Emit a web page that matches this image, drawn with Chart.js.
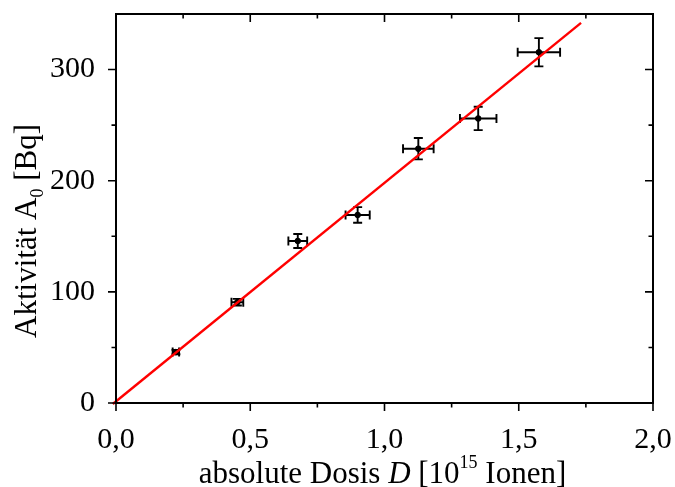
<!DOCTYPE html>
<html>
<head>
<meta charset="utf-8">
<script src="https://cdn.jsdelivr.net/npm/chart.js@4/dist/chart.umd.min.js"></script>
<style>
  html, body { margin: 0; padding: 0; background: #ffffff; }
  #wrap { width: 675px; height: 487px; }
</style>
</head>
<body>
<div id="wrap"><canvas id="chart"></canvas></div>
<script>
/* Aktivität gegen absolute Dosis, mit linearer Anpassung */

// Messpunkte
var dose        = [0.223, 0.452, 0.677, 0.900, 1.126, 1.349, 1.575];
var doseErr     = [0.012, 0.022, 0.035, 0.045, 0.057, 0.068, 0.079];
var activity    = [45.8, 90.7, 145.8, 169.2, 228.8, 256.0, 315.6];
var activityErr = [2.0, 3.0, 6.3, 7.0, 9.6, 10.5, 12.7];

// Ausgleichsgerade (Endpunkte)
var fitX = [-0.012, 1.732];
var fitY = [-0.9, 342.0];

// Achsen
var xTicks      = [0, 0.5, 1.0, 1.5, 2.0];
var xMinorTicks = [0.25, 0.75, 1.25, 1.75];
var yTicks      = [0, 100, 200, 300];
var yMinorTicks = [50, 150, 250];

var SERIF = "'Liberation Serif', 'Times New Roman', serif";

function pairs(xs, ys) {
    return xs.map(function (x, i) { return { x: x, y: ys[i] }; });
}

function noPadding(s) {
    s.paddingTop = 0;
    s.paddingBottom = 0;
    s.paddingLeft = 0;
    s.paddingRight = 0;
}

// Fehlerbalken unter die Punkte zeichnen
var errorBars = {
    id: 'errorBars',
    beforeDatasetsDraw: function (chart) {
        var ctx = chart.ctx, xs = chart.scales.x, ys = chart.scales.y;
        var cap = 4.5;
        ctx.save();
        ctx.strokeStyle = '#000';
        ctx.lineWidth = 1.9;
        dose.forEach(function (d, i) {
            var px = xs.getPixelForValue(d);
            var py = ys.getPixelForValue(activity[i]);
            var x0 = xs.getPixelForValue(d - doseErr[i]);
            var x1 = xs.getPixelForValue(d + doseErr[i]);
            var y0 = ys.getPixelForValue(activity[i] - activityErr[i]);
            var y1 = ys.getPixelForValue(activity[i] + activityErr[i]);
            ctx.beginPath();
            ctx.moveTo(x0, py); ctx.lineTo(x1, py);
            ctx.moveTo(x0, py - cap); ctx.lineTo(x0, py + cap);
            ctx.moveTo(x1, py - cap); ctx.lineTo(x1, py + cap);
            ctx.moveTo(px, y0); ctx.lineTo(px, y1);
            ctx.moveTo(px - cap, y0); ctx.lineTo(px + cap, y0);
            ctx.moveTo(px - cap, y1); ctx.lineTo(px + cap, y1);
            ctx.stroke();
        });
        ctx.restore();
    }
};

// Rahmen, Teilstriche und Achsentitel
var frame = {
    id: 'frame',
    afterDraw: function (chart) {
        var ctx = chart.ctx, a = chart.chartArea;
        var xs = chart.scales.x, ys = chart.scales.y;
        var major = 8, minor = 4.5;
        ctx.save();
        ctx.strokeStyle = '#000';
        ctx.lineWidth = 2;
        ctx.strokeRect(a.left, a.top, a.right - a.left, a.bottom - a.top);

        ctx.lineWidth = 1.6;
        ctx.beginPath();
        function xt(v, len) {
            var p = xs.getPixelForValue(v);
            ctx.moveTo(p, a.bottom); ctx.lineTo(p, a.bottom + len);
            ctx.moveTo(p, a.top);    ctx.lineTo(p, a.top + len);
        }
        function yt(v, len) {
            var p = ys.getPixelForValue(v);
            ctx.moveTo(a.left, p);  ctx.lineTo(a.left - len, p);
            ctx.moveTo(a.right, p); ctx.lineTo(a.right - len, p);
        }
        xTicks.forEach(function (v) { xt(v, major); });
        xMinorTicks.forEach(function (v) { xt(v, minor); });
        yTicks.forEach(function (v) { yt(v, major); });
        yMinorTicks.forEach(function (v) { yt(v, minor); });
        ctx.stroke();

        // x-Titel: absolute Dosis D [10^15 Ionen]
        ctx.fillStyle = '#000';
        ctx.textBaseline = 'alphabetic';
        var big = '31px ' + SERIF, ital = 'italic 31px ' + SERIF, small = '18px ' + SERIF;
        var parts = [
            { t: 'absolute Dosis ', f: big, dy: 0 },
            { t: 'D', f: ital, dy: 0 },
            { t: ' [10', f: big, dy: 0 },
            { t: '15', f: small, dy: -15 },
            { t: ' Ionen]', f: big, dy: 0 }
        ];
        var w = 0;
        parts.forEach(function (p) { ctx.font = p.f; w += ctx.measureText(p.t).width; });
        var x = 382.5 - w / 2, base = 483;
        parts.forEach(function (p) {
            ctx.font = p.f;
            ctx.fillText(p.t, x, base + p.dy);
            x += ctx.measureText(p.t).width;
        });

        // y-Titel: Aktivität A_0 [Bq]
        ctx.translate(36, 231);
        ctx.rotate(-Math.PI / 2);
        var yparts = [
            { t: 'Aktivität A', f: '31px ' + SERIF, dy: 0 },
            { t: '0', f: '18px ' + SERIF, dy: 7 },
            { t: ' [Bq]', f: '31px ' + SERIF, dy: 0 }
        ];
        w = 0;
        yparts.forEach(function (p) { ctx.font = p.f; w += ctx.measureText(p.t).width; });
        x = -w / 2;
        yparts.forEach(function (p) {
            ctx.font = p.f;
            ctx.fillText(p.t, x, p.dy);
            x += ctx.measureText(p.t).width;
        });
        ctx.restore();
    }
};

new Chart(document.getElementById('chart').getContext('2d'), {
    type: 'scatter',
    data: {
        datasets: [
            {
                data: pairs(dose, activity),
                backgroundColor: '#000',
                borderColor: '#000',
                pointRadius: 2.8,
                pointHoverRadius: 2.8,
                order: 1
            },
            {
                data: pairs(fitX, fitY),
                showLine: true,
                borderColor: '#ff0000',
                borderWidth: 2.4,
                pointRadius: 0,
                clip: false,
                order: 0
            }
        ]
    },
    options: {
        responsive: true,
        maintainAspectRatio: false,
        animation: false,
        layout: { padding: { left: 0, right: 22, top: 14, bottom: 0 } },
        plugins: {
            legend: { display: false },
            tooltip: { enabled: false }
        },
        scales: {
            x: {
                type: 'linear',
                min: 0,
                max: 2,
                grid: { display: false },
                border: { display: false },
                afterBuildTicks: function (s) {
                    s.ticks = xTicks.map(function (v) { return { value: v }; });
                },
                afterFit: function (s) { s.height = 84; noPadding(s); },
                ticks: {
                    color: '#000',
                    padding: 11,
                    maxRotation: 0,
                    autoSkip: false,
                    font: { family: SERIF, size: 30 },
                    callback: function (v) { return Number(v).toFixed(1).replace('.', ','); }
                }
            },
            y: {
                min: 0,
                max: 350,
                grid: { display: false },
                border: { display: false },
                afterBuildTicks: function (s) {
                    s.ticks = yTicks.map(function (v) { return { value: v }; });
                },
                afterFit: function (s) { s.width = 116; noPadding(s); },
                ticks: {
                    color: '#000',
                    padding: 13,
                    autoSkip: false,
                    font: { family: SERIF, size: 30 },
                    callback: function (v) { return String(v); }
                }
            }
        }
    },
    plugins: [errorBars, frame]
});
</script>
</body>
</html>
